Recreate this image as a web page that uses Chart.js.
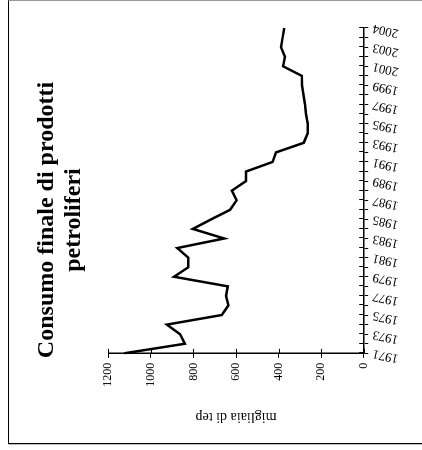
<!DOCTYPE html>
<html lang="it">
<head>
<meta charset="utf-8">
<title>Consumo finale di prodotti petroliferi</title>
<script src="https://cdn.jsdelivr.net/npm/chart.js@4.4.1/dist/chart.umd.min.js"></script>
<style>
  html, body { margin: 0; padding: 0; background: #fff; }
  body { width: 422px; height: 450px; position: relative; overflow: hidden; }
  /* cornice della pagina */
  #cornice {
    position: absolute; left: 8px; top: 0; width: 430px; height: 444px;
    box-sizing: border-box;
    border-left: 1px solid #000; border-bottom: 1.5px solid #000; border-top: 1px solid #999;
    box-shadow: 0 1px 0 #bbb;
  }
  /* il grafico è disegnato in orizzontale e poi ruotato di 90° */
  #ruotato {
    position: absolute; left: 0; top: 0; width: 450px; height: 422px;
    transform-origin: 0 0;
    transform: translateY(450px) rotate(-90deg);
  }
</style>
</head>
<body>
<div id="cornice"></div>
<div id="ruotato"><canvas id="grafico" width="450" height="422"></canvas></div>
<script>
// Dati (migliaia di tep)
const anni = [
  '1971', '1972', '1973', '1974', '1975', '1976', '1977', '1978', '1979', '1980',
  '1981', '1982', '1983', '1984', '1985', '1986', '1987', '1988', '1989', '1990',
  '1991', '1992', '1993', '1994', '1995', '1996', '1997', '1998', '1999', '2000',
  '2001', '2002', '2003', '', '2004'
];
const consumo = [
  1125, 840, 863, 925, 667, 636, 647, 639, 891, 824,
  824, 876, 656, 803, 717, 628, 597, 620, 553, 553,
  428, 412, 282, 263, 263, 271, 276, 283, 290, 291,
  379, 370, 389, 381, 373
];
const titolo = ['Consumo finale di prodotti', 'petroliferi'];
const titoloAsse = 'migliaia di tep';

Chart.defaults.font.family = '"Liberation Serif", "Times New Roman", serif';
Chart.defaults.color = '#000';

// tacche che attraversano gli assi (parte interna)
const LUNGH_TACCA = 4.5;
const taccheIncrociate = {
  id: 'taccheIncrociate',
  afterDraw(chart) {
    const { ctx, chartArea, scales } = chart;
    ctx.save();
    ctx.strokeStyle = '#000';
    ctx.lineWidth = 1;
    ctx.beginPath();
    scales.x.ticks.forEach((t, i) => {
      const px = Math.round(scales.x.getPixelForTick(i)) + 0.5;
      ctx.moveTo(px, chartArea.bottom);
      ctx.lineTo(px, chartArea.bottom - LUNGH_TACCA);
    });
    scales.y.ticks.forEach((t, i) => {
      const py = Math.round(scales.y.getPixelForTick(i)) + 0.5;
      ctx.moveTo(chartArea.left, py);
      ctx.lineTo(chartArea.left + LUNGH_TACCA, py);
    });
    ctx.stroke();
    ctx.restore();
  }
};

const canvas = document.getElementById('grafico');
const chart = new Chart(canvas.getContext('2d'), {
  type: 'line',
  data: {
    labels: anni,
    datasets: [{
      data: consumo,
      borderColor: '#000',
      borderWidth: 2.5,
      pointRadius: 0,
      tension: 0,
      fill: false
    }]
  },
  options: {
    responsive: false,
    animation: false,
    devicePixelRatio: 1,
    layout: { padding: { left: 38, right: 28, top: 0, bottom: 0 } },
    plugins: {
      legend: { display: false },
      tooltip: { enabled: false },
      title: {
        display: true,
        text: titolo,
        color: '#000',
        font: { size: 24, weight: 'bold', lineHeight: 1.13 },
        padding: { top: 33.4, bottom: 20.7 }
      }
    },
    scales: {
      x: {
        type: 'category',
        offset: false,
        grid: { drawOnChartArea: false, drawTicks: true, tickLength: LUNGH_TACCA, color: '#000', lineWidth: 1 },
        border: { color: '#000', width: 1.5 },
        ticks: {
          autoSkip: false,
          minRotation: 78,
          maxRotation: 78,
          padding: 3,
          font: { size: 13 },
          callback(v, i) { return i % 2 === 0 ? this.getLabelForValue(v) : ''; }
        },
        afterFit(s) { s.height = 58.3; }
      },
      y: {
        min: 0,
        max: 1200,
        grid: { drawOnChartArea: false, drawTicks: true, tickLength: LUNGH_TACCA, color: '#000', lineWidth: 1 },
        border: { color: '#000', width: 1.5 },
        ticks: {
          stepSize: 200,
          padding: 5,
          font: { size: 12 },
          callback: v => String(v)
        },
        title: {
          display: true,
          text: titoloAsse,
          font: { size: 14 },
          padding: { top: -13.4, bottom: 0 }
        },
        afterFit(s) { s.width = 58.7; }
      }
    }
  },
  plugins: [taccheIncrociate]
});
</script>
</body>
</html>
